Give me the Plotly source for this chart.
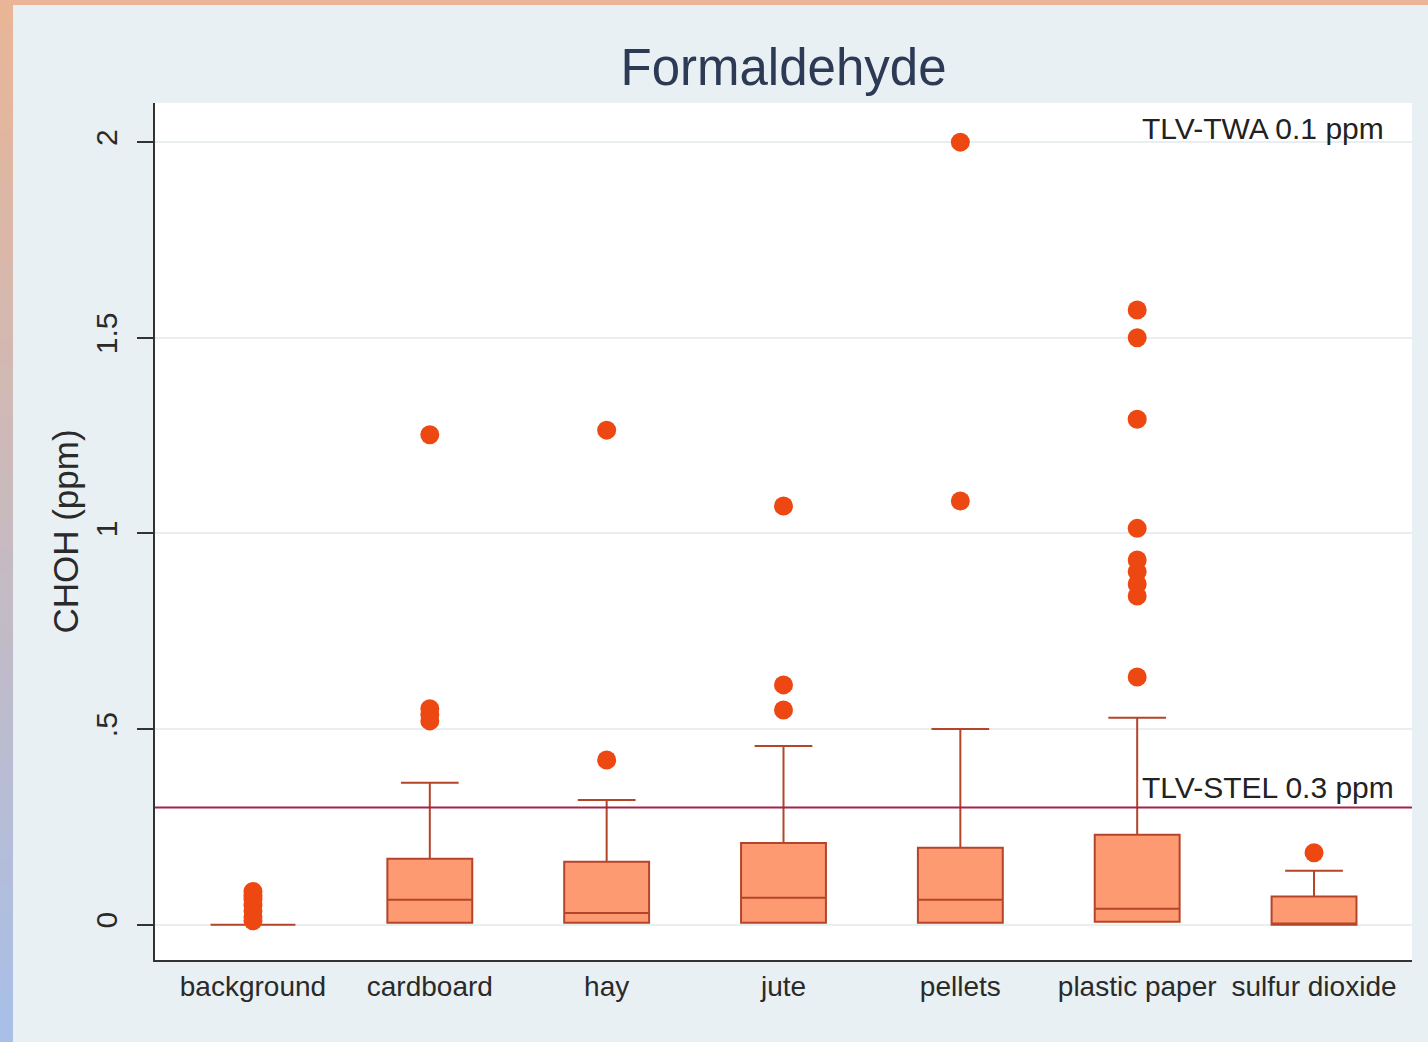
import plotly.graph_objects as go

# ---------------- data ----------------
categories = ["background", "cardboard", "hay", "jute", "pellets",
              "plastic paper", "sulfur dioxide"]
q1_vals = [0.0, 0.005, 0.005, 0.005, 0.005, 0.008, 0.0]
median_vals = [0.0, 0.064, 0.030, 0.069, 0.064, 0.041, 0.003]
q3_vals = [0.0, 0.169, 0.161, 0.209, 0.197, 0.230, 0.072]
lower_vals = [0.0, 0.005, 0.005, 0.005, 0.005, 0.008, 0.0]
upper_vals = [0.0, 0.363, 0.319, 0.457, 0.500, 0.529, 0.138]

out_background = [0.085, 0.075, 0.065, 0.050, 0.035, 0.020, 0.010]
out_cardboard = [0.552, 0.537, 0.521, 1.252]
out_hay = [0.421, 1.264]
out_jute = [0.549, 0.613, 1.070]
out_pellets = [1.083, 2.000]
out_plastic = [0.633, 0.840, 0.871, 0.902, 0.932, 1.013, 1.292, 1.500, 1.571]
out_sulfur = [0.184]
outlier_lists = [out_background, out_cardboard, out_hay, out_jute,
                 out_pellets, out_plastic, out_sulfur]

ytick_vals = [0, 0.5, 1, 1.5, 2]
ytick_text = ["0", ".5", "1", "1.5", "2"]
stel_value = 0.3

# ---------------- layout geometry ----------------
W, H = 1428, 1042
ML, MR, MT, MB = 155, 16, 103, 82
PW, PH = W - ML - MR, H - MT - MB


def px_x(px):
    return (px - ML) / PW


def px_y(py):
    return (H - MB - py) / PH


FONT = "Liberation Sans, Arial, sans-serif"
BOX_FILL = "#fd9a72"
BOX_LINE = "#b4452a"
DOT = "#ee4812"

fig = go.Figure()

fig.add_trace(go.Box(
    x=categories,
    q1=q1_vals, median=median_vals, q3=q3_vals,
    lowerfence=lower_vals, upperfence=upper_vals,
    boxpoints=False,
    width=0.48,
    fillcolor=BOX_FILL,
    line=dict(color=BOX_LINE, width=2),
    whiskerwidth=0.68,
    showlegend=False,
    hoverinfo="skip",
))

ox, oy = [], []
for cat, vals in zip(categories, outlier_lists):
    for v in vals:
        ox.append(cat)
        oy.append(v)

fig.add_trace(go.Scatter(
    x=ox, y=oy, mode="markers",
    marker=dict(color=DOT, size=19, line=dict(width=0)),
    showlegend=False, hoverinfo="skip",
))

# threshold line
fig.add_shape(type="line", xref="paper", yref="y", x0=0, x1=1,
              y0=stel_value, y1=stel_value,
              line=dict(color="#a3234b", width=2), layer="above")

# decorative slide border: top strip + left gradient strip
top_c = (233, 181, 150)
bot_c = (168, 191, 232)
N = 40
for i in range(N):
    t = (i + 0.5) / N
    c = tuple(int(round(top_c[k] + (bot_c[k] - top_c[k]) * t)) for k in range(3))
    y_top_px = H * i / N
    y_bot_px = H * (i + 1) / N + 1
    fig.add_shape(type="rect", xref="paper", yref="paper",
                  x0=px_x(-2), x1=px_x(13), y0=px_y(y_bot_px), y1=px_y(y_top_px),
                  fillcolor="rgb(%d,%d,%d)" % c, line=dict(width=0), layer="above")
fig.add_shape(type="rect", xref="paper", yref="paper",
              x0=px_x(-2), x1=px_x(W + 2), y0=px_y(5), y1=px_y(-2),
              fillcolor="rgb(%d,%d,%d)" % top_c, line=dict(width=0), layer="above")

fig.add_annotation(text="TLV-TWA 0.1 ppm", xref="paper", yref="paper",
                   x=px_x(1386), y=px_y(128), xanchor="right", yanchor="middle",
                   showarrow=False, font=dict(family=FONT, size=30, color="#222222"))
fig.add_annotation(text="TLV-STEL 0.3 ppm", xref="paper", yref="paper",
                   x=px_x(1396), y=px_y(787), xanchor="right", yanchor="middle",
                   showarrow=False, font=dict(family=FONT, size=30, color="#222222"))

fig.update_layout(
    width=W, height=H,
    margin=dict(l=ML, r=MR, t=MT, b=MB, autoexpand=False),
    paper_bgcolor="#e9f0f3",
    plot_bgcolor="#ffffff",
    title=dict(text="Formaldehyde", x=px_x(783.5), xref="paper",
               y=1 - 67 / H, yref="container", xanchor="center", yanchor="middle",
               font=dict(family=FONT, size=51, color="#2d3a56")),
    font=dict(family=FONT, color="#2a2a2a"),
)

fig.update_xaxes(
    type="category",
    categoryorder="array", categoryarray=categories,
    range=[-0.554, 6.554],
    showline=True, linecolor="#333333", linewidth=2,
    showgrid=False, ticks="", ticklabelstandoff=0,
    tickfont=dict(family=FONT, size=28, color="#2a2a2a"),
    automargin=False,
)

fig.update_yaxes(
    range=[-0.09, 2.1],
    tickvals=ytick_vals, ticktext=ytick_text, tickangle=-90,
    ticks="outside", ticklen=16, tickwidth=1.5, tickcolor="#333333",
    ticklabelstandoff=8,
    showline=True, linecolor="#333333", linewidth=2,
    showgrid=True, gridcolor="#e9eef1", gridwidth=1.5,
    zeroline=False,
    tickfont=dict(family=FONT, size=30, color="#2a2a2a"),
    title=dict(text="CHOH (ppm)", standoff=1,
               font=dict(family=FONT, size=35, color="#2a2a2a")),
    automargin=False,
)

fig.write_html("out.html",
               config={"displayModeBar": False},
               post_script="document.body.style.margin='0';document.body.style.overflow='hidden';")
